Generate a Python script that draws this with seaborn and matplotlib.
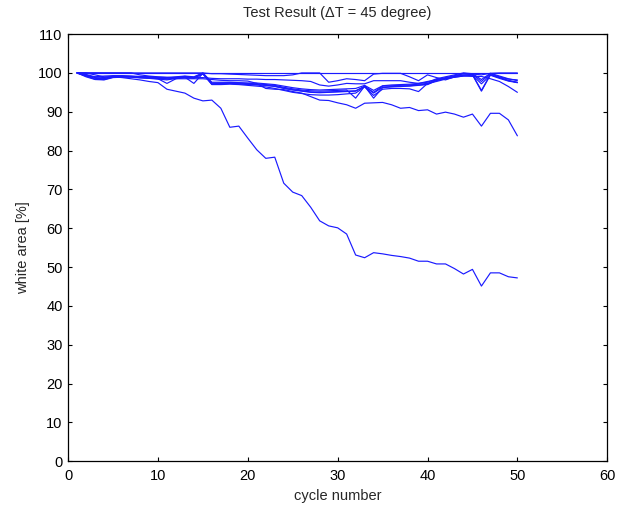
import matplotlib
matplotlib.use("Agg")
import matplotlib.pyplot as plt
import seaborn as sns
import pandas as pd

cycles = list(range(1, 51))

s_top = [100, 100, 100, 100, 100, 100, 100, 100, 100, 100,
         100, 100, 100, 100, 100, 100, 100, 100, 100, 100,
         100, 100, 100, 100, 100, 100, 100, 100, 100, 100,
         100, 100, 100, 100, 100, 100, 100, 100, 100, 100,
         100, 100, 100, 100, 100, 100, 100, 100, 100, 100]

s_a = [100, 100, 100, 100, 100, 100, 100, 100, 100, 100,
       100, 100, 100, 100, 100, 99.8, 99.8, 99.7, 99.6, 99.5,
       99.4, 99.3, 99.3, 99.3, 99.5, 100, 100, 100, 97.6, 98.0,
       98.5, 98.3, 98.0, 99.7, 99.9, 99.9, 99.9, 99.0, 98.0, 99.5,
       98.8, 98.2, 99.0, 99.9, 99.7, 99.5, 99.9, 100, 100, 100]

s_b = [100, 100, 100, 100, 100, 100, 100, 99.5, 99.2, 99.0,
       98.9, 98.8, 98.8, 98.8, 98.8, 98.6, 98.5, 98.5, 98.5, 98.4,
       98.4, 98.3, 98.3, 98.2, 98.1, 98.0, 97.8, 96.9, 96.6, 96.9,
       97.3, 97.2, 97.2, 98.0, 98.0, 98.0, 98.0, 97.6, 97.3, 97.8,
       98.2, 98.6, 98.9, 99.2, 99.1, 99.1, 98.5, 97.8, 96.5, 95.0]

s_c = [100, 99.2, 99.0, 99.2, 99.3, 99.3, 99.2, 99.1, 99.0, 98.7,
       98.5, 98.5, 98.5, 98.5, 98.5, 98.3, 98.1, 98.0, 98.0, 97.9,
       97.3, 96.0, 95.8, 95.7, 95.2, 94.8, 93.9, 93.0, 92.9, 92.3,
       91.8, 90.9, 92.2, 92.3, 92.4, 91.8, 90.9, 91.1, 90.3, 90.5,
       89.4, 89.9, 89.4, 88.6, 89.4, 86.3, 89.6, 89.6, 87.9, 83.8]

s_d = [100, 100, 99.5, 99.0, 99.0, 98.8, 98.5, 98.2, 97.8, 97.5,
       95.8, 95.3, 94.8, 93.5, 92.8, 93.0, 90.9, 86.0, 86.3, 83.2,
       80.2, 78.0, 78.3, 71.6, 69.3, 68.4, 65.4, 61.9, 60.6, 60.1,
       58.5, 53.1, 52.4, 53.7, 53.4, 53.0, 52.7, 52.3, 51.5, 51.5,
       50.8, 50.8, 49.6, 48.2, 49.4, 45.1, 48.5, 48.5, 47.5, 47.2]

s_e = [100, 99.2, 98.4, 98.3, 98.9, 99.0, 99.0, 98.8, 98.7, 98.5,
       97.3, 98.5, 98.9, 97.3, 99.9, 97.1, 97.2, 97.3, 97.2, 97.0,
       96.9, 96.8, 96.5, 96.0, 95.6, 95.3, 95.0, 94.9, 95.0, 95.1,
       95.2, 95.3, 96.6, 93.5, 96.2, 96.4, 96.5, 96.6, 96.8, 97.0,
       98.0, 98.6, 99.1, 99.4, 99.6, 95.5, 99.6, 98.8, 98.0, 97.6]

s_f = [100, 99.5, 98.8, 98.6, 99.1, 99.1, 99.1, 99.0, 98.9, 98.8,
       98.7, 98.9, 99.1, 98.9, 99.8, 97.4, 97.4, 97.5, 97.4, 97.3,
       97.2, 97.0, 96.8, 96.3, 95.9, 95.6, 95.4, 95.3, 95.4, 95.5,
       95.6, 93.5, 96.6, 95.0, 96.6, 96.7, 96.8, 96.9, 97.1, 97.3,
       98.3, 98.8, 99.3, 99.8, 99.7, 97.8, 99.8, 99.0, 98.4, 98.2]

s_g = [100, 99.0, 98.3, 98.2, 98.8, 98.9, 98.9, 98.7, 98.6, 98.4,
       98.2, 98.6, 98.8, 98.6, 99.7, 97.0, 97.0, 97.1, 97.0, 96.8,
       96.6, 96.4, 96.0, 95.5, 95.0, 94.7, 94.4, 94.3, 94.3, 94.4,
       94.6, 94.8, 96.4, 94.2, 95.8, 96.0, 96.0, 95.9, 95.2, 97.3,
       97.8, 98.4, 98.9, 99.2, 99.4, 97.2, 99.4, 98.6, 97.9, 97.5]

s_h = [100, 99.3, 98.6, 98.5, 99.0, 99.0, 99.0, 98.9, 98.7, 98.6,
       98.4, 98.7, 99.0, 98.7, 99.9, 97.2, 97.3, 97.3, 97.2, 97.1,
       97.0, 96.8, 96.6, 96.1, 95.7, 95.4, 95.1, 95.0, 95.1, 95.2,
       95.3, 95.4, 96.5, 94.8, 96.3, 96.5, 96.6, 96.7, 96.9, 97.1,
       98.1, 98.6, 99.0, 99.5, 99.5, 95.3, 99.5, 98.8, 98.1, 97.5]

s_i = [100, 99.6, 99.0, 98.8, 99.2, 99.2, 99.1, 99.0, 99.0, 98.9,
       98.8, 99.0, 99.2, 99.0, 100, 97.6, 97.6, 97.6, 97.5, 97.4,
       97.4, 97.2, 97.0, 96.6, 96.2, 95.9, 95.7, 95.6, 95.7, 95.8,
       95.9, 96.0, 96.8, 95.5, 96.7, 96.9, 97.0, 97.1, 97.3, 97.6,
       98.5, 99.0, 99.5, 100, 99.8, 98.3, 99.9, 99.2, 98.5, 98.0]

series = [s_top, s_a, s_b, s_c, s_d, s_e, s_f, s_g, s_h, s_i]

x_ticks = [0, 10, 20, 30, 40, 50, 60]
y_ticks = [0, 10, 20, 30, 40, 50, 60, 70, 80, 90, 100, 110]

rows = []
for k, s in enumerate(series):
    for c, v in zip(cycles, s):
        rows.append({"cycle": c, "white": v, "sample": k})
df = pd.DataFrame(rows)

sns.set_style("ticks")
plt.rcParams["font.family"] = ["Liberation Sans", "DejaVu Sans"]
plt.rcParams["xtick.direction"] = "in"
plt.rcParams["ytick.direction"] = "in"

fig = plt.figure(figsize=(6.19, 5.09), dpi=100)
ax = fig.add_axes([0.110, 0.094, 0.871, 0.839])

sns.lineplot(data=df, x="cycle", y="white", units="sample", estimator=None,
             color="#1a1aff", linewidth=0.85, ax=ax, legend=False)

ax.set_xlim(0, 60)
ax.set_ylim(0, 110)
ax.set_xticks(x_ticks)
ax.set_yticks(y_ticks)
ax.tick_params(axis="both", which="both", top=True, right=True, length=3,
               width=0.8, labelsize=10.5, colors="black")
ax.tick_params(axis="x", pad=6)
ax.tick_params(axis="y", pad=4)
for sp in ax.spines.values():
    sp.set_visible(True)
    sp.set_color("black")
    sp.set_linewidth(0.9)

ax.set_xlabel("cycle number", fontsize=10.5, labelpad=4)
ax.set_ylabel("white area [%]", fontsize=10.5, labelpad=6)
ax.set_title("Test Result (\u0394T = 45 degree)", fontsize=10.5, pad=12)

fig.savefig("out.png", dpi=100)
